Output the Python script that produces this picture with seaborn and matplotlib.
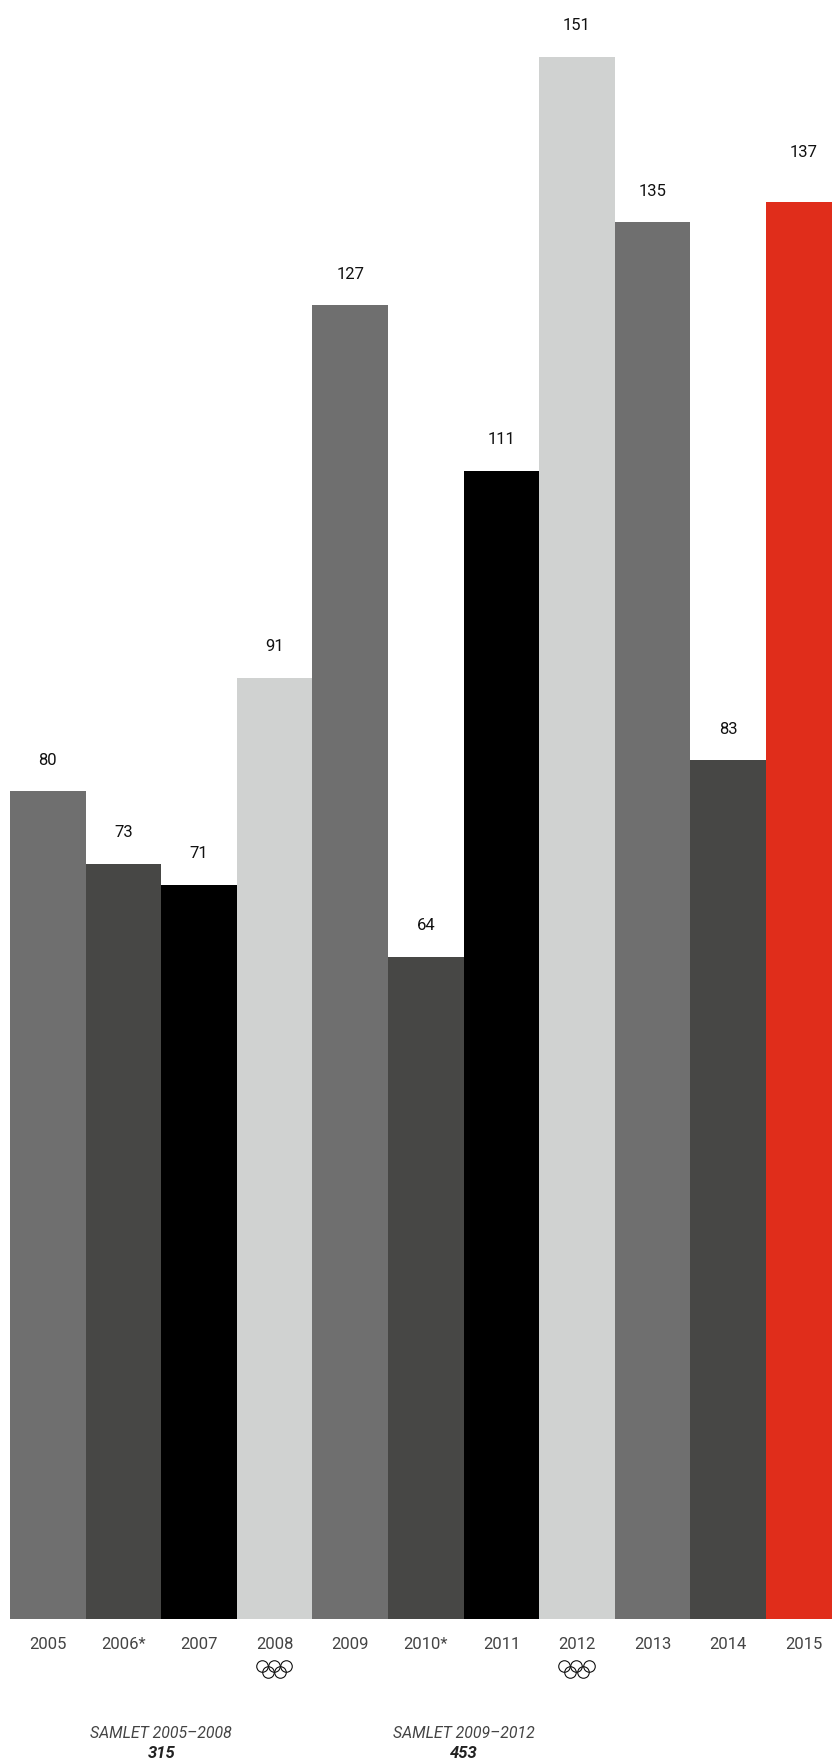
import pandas as pd
import seaborn as sns
import matplotlib.pyplot as plt
from matplotlib.transforms import offset_copy

# medals per year
years = ['2005', '2006*', '2007', '2008', '2009', '2010*', '2011', '2012', '2013', '2014', '2015']
values = [80, 73, 71, 91, 127, 64, 111, 151, 135, 83, 137]
bar_colors = ['#6f6f6f', '#474745', '#000000', '#d0d2d1', '#6f6f6f', '#474745',
              '#000000', '#d0d2d1', '#6f6f6f', '#474745', '#e02d1b']
label_offsets = [31, 31, 31, 31, 31, 31, 31, 31, 31, 31, 49]

olympic_years = ['2008', '2012']
total_labels = ['SAMLET 2005–2008', 'SAMLET 2009–2012']
total_values = ['315', '453']
total_spans = [('2006*', '2007'), ('2010*', '2011')]

W, H = 832, 1763
BASE_Y = 1619
BAR_W = 75.6
LEFT = 10
PX_PER_UNIT = 10.345

sns.set_style('white')
plt.rcParams['font.family'] = ['Roboto', 'DejaVu Sans']

df = pd.DataFrame({'year': years, 'value': values})

fig = plt.figure(figsize=(W / 100, H / 100), dpi=100)
ax = fig.add_axes([0, (H - BASE_Y) / H, 1, BASE_Y / H])

sns.barplot(data=df, x='year', y='value', hue='year', palette=bar_colors,
            width=1, saturation=1, legend=False, linewidth=0, ax=ax)

x0 = -0.5 - LEFT / BAR_W
ax.set_xlim(x0, x0 + W / BAR_W)
ax.set_ylim(0, BASE_Y / PX_PER_UNIT)
ax.set_xlabel('')
ax.set_ylabel('')
ax.set_yticks([])
ax.tick_params(axis='x', length=0, pad=13, labelsize=12, labelcolor='#444444')
sns.despine(ax=ax, left=True, bottom=True, top=True, right=True)

for i, (v, off) in enumerate(zip(values, label_offsets)):
    ax.annotate(str(v), xy=(i, v), xytext=(0, off * 0.72), textcoords='offset points',
                ha='center', va='center', fontsize=12, color='#111111', annotation_clip=False)

# olympic rings under the tick label
ring_dx = [-12.3, 0, 12.3, -6.2, 6.2]
ring_dy = [-46.5, -46.5, -46.5, -52.5, -52.5]
for yr in olympic_years:
    i = years.index(yr)
    for dx, dy in zip(ring_dx, ring_dy):
        tr = offset_copy(ax.get_xaxis_transform(), fig=fig, x=dx - 0.5, y=dy, units='dots')
        ax.plot([i], [0], transform=tr, marker='o', ms=8.3, mfc='none', mec='#111111',
                mew=0.8, clip_on=False, zorder=5)

# totals per olympic cycle
for text, total, span in zip(total_labels, total_values, total_spans):
    xc = (years.index(span[0]) + years.index(span[1])) / 2
    tr = ax.get_xaxis_transform()
    ax.annotate(text, xy=(xc, 0), xycoords=tr, xytext=(0, -114 * 0.72), textcoords='offset points',
                ha='center', va='center', fontsize=11.4, style='italic', color='#444444',
                annotation_clip=False)
    ax.annotate(total, xy=(xc, 0), xycoords=tr, xytext=(0, -135 * 0.72), textcoords='offset points',
                ha='center', va='center', fontsize=12, style='italic', weight='bold',
                color='#222222', annotation_clip=False)

fig.savefig('out.png', dpi=100)
